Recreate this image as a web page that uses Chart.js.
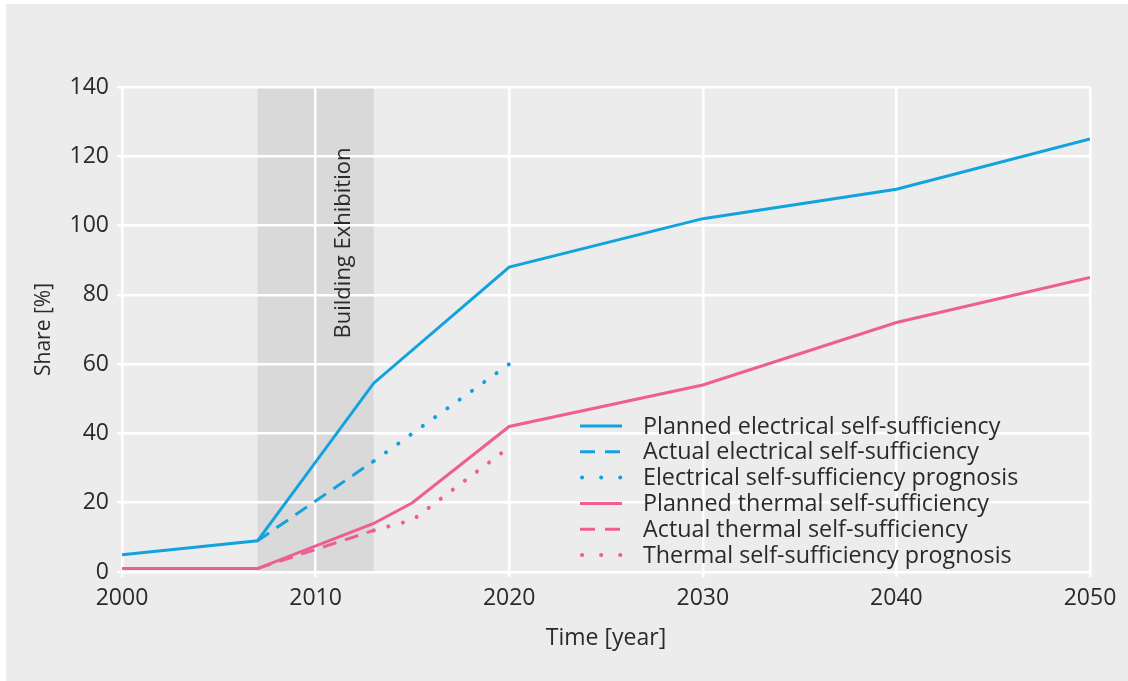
<!DOCTYPE html>
<html lang="en">
<head>
<meta charset="UTF-8">
<title>Self-sufficiency</title>
<script src="https://cdn.jsdelivr.net/npm/chart.js"></script>
<style>
body {margin: 0; background: #ffffff;}
.box {position: absolute; left: 6px; top: 4px; width: 1122px; height: 677px; background: #ececec;}
</style>
</head>
<body>
<div class="box"><canvas id="myChart"></canvas></div>
<script>
// values
const yTicks = [0, 20, 40, 60, 80, 100, 120, 140];
const xTicks = [2000, 2010, 2020, 2030, 2040, 2050];
const exhibition = [2007, 2013];

const plannedElecYears = [2000, 2007, 2013, 2020, 2030, 2040, 2050];
const plannedElec = [5, 9, 54.5, 88, 102, 110.5, 125];
const actualElecYears = [2007, 2013];
const actualElec = [9, 32];
const progElecYears = [2013, 2020];
const progElec = [32, 60];

const plannedThermYears = [2000, 2007, 2013, 2015, 2020, 2030, 2040, 2050];
const plannedTherm = [1, 1, 14, 20, 42, 54, 72, 85];
const actualThermYears = [2007, 2013];
const actualTherm = [1, 12];
const progThermYears = [2013, 2015, 2020];
const progTherm = [12, 15, 36];

const blue = '#12a2e0';
const pink = '#ee5d94';
const textCol = '#2a2a2a';
const font = 'Open Sans';

function pts(xs, ys) {
  return xs.map((x, i) => ({x: x, y: ys[i]}));
}

function line(label, xs, ys, color, dash) {
  const dotted = dash.length && dash[0] < 1;
  return {
    label: label,
    data: pts(xs, ys),
    borderColor: color,
    backgroundColor: color,
    borderWidth: dotted ? 4 : 3,
    borderDash: dash,
    borderCapStyle: dotted ? 'round' : 'butt',
    pointRadius: 0,
    fill: false,
    tension: 0
  };
}

// grey band for the building exhibition, under the grid
const bandPlugin = {
  id: 'band',
  beforeDraw(chart) {
    const {ctx, chartArea, scales} = chart;
    const x1 = scales.x.getPixelForValue(exhibition[0]);
    const x2 = scales.x.getPixelForValue(exhibition[1]);
    ctx.save();
    ctx.fillStyle = '#d9d9d9';
    ctx.fillRect(x1, chartArea.top, x2 - x1, chartArea.bottom - chartArea.top);
    ctx.restore();
  },
  beforeDatasetsDraw(chart) {
    const {ctx, chartArea, scales} = chart;
    const x1 = scales.x.getPixelForValue(exhibition[0]);
    const x2 = scales.x.getPixelForValue(exhibition[1]);
    ctx.save();
    ctx.translate(x1 + (x2 - x1) * 0.74, chartArea.top + 156);
    ctx.rotate(-Math.PI / 2);
    ctx.fillStyle = textCol;
    ctx.font = '22px "' + font + '"';
    ctx.textAlign = 'center';
    ctx.textBaseline = 'middle';
    ctx.fillText('Building Exhibition', 0, 0);
    ctx.restore();
  }
};

// legend inside the plot, bottom right
const legendPlugin = {
  id: 'innerLegend',
  afterDatasetsDraw(chart) {
    const {ctx, chartArea} = chart;
    const x0 = chartArea.left + 458;
    const y0 = chartArea.top + 339;
    const legendDashes = [[], [15, 10], [0.1, 19], [], [15, 10], [0.1, 19]];
    ctx.save();
    ctx.font = '23.3px "' + font + '"';
    ctx.textBaseline = 'middle';
    chart.data.datasets.forEach((ds, i) => {
      const y = y0 + i * 25.8;
      const dotted = legendDashes[i].length && legendDashes[i][0] < 1;
      ctx.strokeStyle = ds.borderColor;
      ctx.lineWidth = dotted ? 4 : 3;
      ctx.setLineDash(legendDashes[i]);
      ctx.lineCap = dotted ? 'round' : 'butt';
      ctx.beginPath();
      ctx.moveTo(x0 + (dotted ? 2 : 0), y);
      ctx.lineTo(x0 + 42, y);
      ctx.stroke();
      ctx.setLineDash([]);
      ctx.fillStyle = textCol;
      ctx.fillText(ds.label, x0 + 63, y + 1);
    });
    ctx.restore();
  }
};

const ctx = document.getElementById('myChart');
new Chart(ctx, {
  type: 'line',
  data: {
    datasets: [
      line('Planned electrical self-sufficiency', plannedElecYears, plannedElec, blue, []),
      line('Actual electrical self-sufficiency', actualElecYears, actualElec, blue, [14, 9]),
      line('Electrical self-sufficiency prognosis', progElecYears, progElec, blue, [0.1, 15]),
      line('Planned thermal self-sufficiency', plannedThermYears, plannedTherm, pink, []),
      line('Actual thermal self-sufficiency', actualThermYears, actualTherm, pink, [14, 9]),
      line('Thermal self-sufficiency prognosis', progThermYears, progTherm, pink, [0.1, 15])
    ]
  },
  options: {
    responsive: true,
    maintainAspectRatio: false,
    animation: false,
    layout: {padding: {top: 83, right: 38, left: 0, bottom: 0}},
    plugins: {
      legend: {display: false},
      tooltip: {enabled: false}
    },
    scales: {
      x: {
        type: 'linear',
        min: xTicks[0],
        max: xTicks[xTicks.length - 1],
        afterBuildTicks: s => { s.ticks = xTicks.map(v => ({value: v})); },
        afterFit: s => { s.height = 109; },
        grid: {color: '#ffffff', lineWidth: 2.5, tickLength: 5},
        border: {display: false},
        ticks: {color: textCol, padding: 8, font: {family: font, size: 23}, callback: v => String(v)},
        title: {display: true, text: 'Time [year]', color: textCol, padding: {top: 0, bottom: 29}, font: {family: font, size: 23}}
      },
      y: {
        min: yTicks[0],
        max: yTicks[yTicks.length - 1],
        afterBuildTicks: s => { s.ticks = yTicks.map(v => ({value: v})); },
        afterFit: s => { s.width = 116; },
        grid: {color: '#ffffff', lineWidth: 2.5, tickLength: 5},
        border: {display: false},
        ticks: {color: textCol, padding: 8, font: {family: font, size: 23}},
        title: {display: true, text: 'Share [%]', color: textCol, padding: {top: 25, bottom: 0}, font: {family: font, size: 21}}
      }
    }
  },
  plugins: [bandPlugin, legendPlugin]
});
</script>
</body>
</html>
